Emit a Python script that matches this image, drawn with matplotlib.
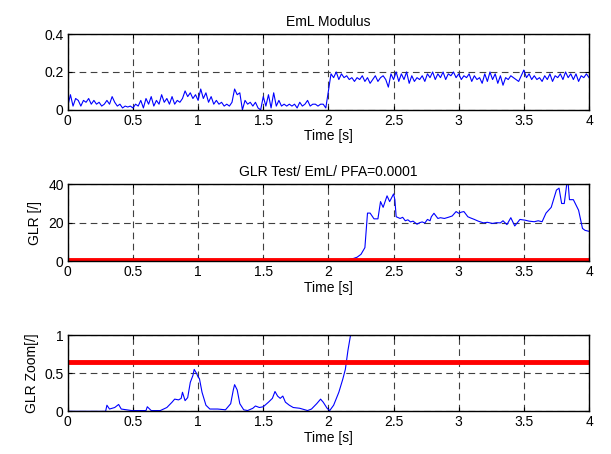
import numpy as np
import matplotlib
matplotlib.use('Agg')
import matplotlib.pyplot as plt

plt.rcParams['font.family'] = ['Liberation Sans', 'DejaVu Sans']
plt.rcParams['font.size'] = 10

# EmL modulus, sampled every 0.02 s from 0 to 4 s
eml_t = np.arange(201) * 0.02
eml = [
    0.02, 0.08, 0.02, 0.06, 0.05, 0.02, 0.05, 0.04, 0.06, 0.03,
    0.05, 0.03, 0.04, 0.02, 0.03, 0.05, 0.03, 0.07, 0.04, 0.02,
    0.03, 0.01, 0.02, 0.015, 0.02, 0.01, 0.03, 0.02, 0.05, 0.01,
    0.06, 0.03, 0.07, 0.02, 0.05, 0.03, 0.08, 0.04, 0.06, 0.03,
    0.07, 0.03, 0.05, 0.04, 0.06, 0.10, 0.07, 0.09, 0.06, 0.08,
    0.05, 0.11, 0.06, 0.09, 0.04, 0.07, 0.03, 0.05, 0.03, 0.04,
    0.02, 0.03, 0.02, 0.04, 0.11, 0.08, 0.09, 0.00, 0.05, 0.03,
    0.04, 0.02, 0.04, 0.01, 0.00, 0.07, 0.02, 0.08, 0.01, 0.09,
    0.02, 0.05, 0.02, 0.03, 0.02, 0.03, 0.02, 0.03, 0.01, 0.04,
    0.02, 0.03, 0.05, 0.02, 0.03, 0.03, 0.02, 0.03, 0.03, 0.01,
    0.10, 0.19, 0.17, 0.20, 0.16, 0.19, 0.17, 0.18, 0.16, 0.17,
    0.15, 0.17, 0.16, 0.18, 0.15, 0.17, 0.14, 0.16, 0.18, 0.15,
    0.17, 0.18, 0.16, 0.12, 0.19, 0.16, 0.20, 0.15, 0.19, 0.16,
    0.20, 0.14, 0.18, 0.15, 0.17, 0.16, 0.18, 0.15, 0.19, 0.17,
    0.20, 0.16, 0.19, 0.17, 0.20, 0.16, 0.19, 0.18, 0.20, 0.17,
    0.19, 0.16, 0.18, 0.17, 0.19, 0.15, 0.18, 0.16, 0.17, 0.14,
    0.19, 0.15, 0.20, 0.16, 0.19, 0.14, 0.18, 0.13, 0.17, 0.16,
    0.18, 0.17, 0.16, 0.15, 0.18, 0.21, 0.17, 0.19, 0.16, 0.18,
    0.16, 0.17, 0.15, 0.18, 0.16, 0.19, 0.15, 0.18, 0.17, 0.19,
    0.16, 0.20, 0.17, 0.19, 0.16, 0.19, 0.15, 0.18, 0.17, 0.19,
    0.17,
]

# GLR statistic (read at irregular times)
glr_t = [
    0.00, 0.29, 0.30, 0.32, 0.36, 0.39, 0.41, 0.45, 0.49, 0.53,
    0.60, 0.61, 0.64, 0.71, 0.76, 0.80, 0.82, 0.85, 0.87, 0.88,
    0.90, 0.92, 0.94, 0.96, 0.97, 0.99, 1.00, 1.01, 1.03, 1.06,
    1.09, 1.15, 1.21, 1.25, 1.27, 1.28, 1.30, 1.32, 1.35, 1.38,
    1.42, 1.44, 1.47, 1.50, 1.54, 1.57, 1.59, 1.61, 1.63, 1.65,
    1.67, 1.70, 1.73, 1.78, 1.84, 1.87, 1.91, 1.94, 1.96, 1.99,
    2.01, 2.04, 2.08, 2.11, 2.13, 2.15, 2.17, 2.19, 2.22, 2.25,
    2.28, 2.30, 2.32, 2.35, 2.38, 2.40, 2.42, 2.45, 2.47, 2.50,
    2.51, 2.52, 2.55, 2.57, 2.59, 2.61, 2.63, 2.65, 2.68, 2.70,
    2.72, 2.74, 2.76, 2.78, 2.79, 2.81, 2.84, 2.86, 2.89, 2.92,
    2.95, 2.98, 3.00, 3.02, 3.04, 3.07, 3.09, 3.12, 3.15, 3.19,
    3.22, 3.26, 3.29, 3.32, 3.34, 3.37, 3.40, 3.43, 3.47, 3.51,
    3.54, 3.58, 3.61, 3.64, 3.67, 3.71, 3.75, 3.77, 3.79, 3.81,
    3.83, 3.84, 3.85, 3.88, 3.92, 3.95, 3.97, 4.00,
]
glr = [
    0.00, 0.00, 0.08, 0.03, 0.05, 0.09, 0.03, 0.02, 0.01, 0.01,
    0.01, 0.06, 0.01, 0.01, 0.05, 0.12, 0.16, 0.15, 0.17, 0.25,
    0.14, 0.18, 0.38, 0.47, 0.55, 0.49, 0.45, 0.43, 0.25, 0.08,
    0.03, 0.03, 0.02, 0.10, 0.28, 0.35, 0.28, 0.10, 0.02, 0.01,
    0.04, 0.07, 0.05, 0.06, 0.12, 0.17, 0.26, 0.20, 0.17, 0.20,
    0.12, 0.08, 0.05, 0.04, 0.01, 0.03, 0.10, 0.16, 0.12, 0.04,
    0.01, 0.08, 0.25, 0.42, 0.55, 0.80, 1.00, 1.3, 2.0, 3.5,
    7.0, 25.0, 25.0, 22.0, 22.0, 31.0, 28.0, 34.0, 31.0, 35.0,
    32.0, 23.1, 22.2, 22.8, 21.0, 21.5, 20.4, 20.8, 19.2, 20.0,
    20.4, 19.8, 21.7, 21.0, 23.1, 24.9, 22.2, 22.6, 22.2, 22.8,
    23.5, 25.8, 24.9, 25.5, 25.8, 23.1, 22.5, 21.7, 20.8, 19.9,
    20.2, 19.6, 20.0, 19.9, 21.0, 19.0, 22.6, 18.3, 21.7, 21.3,
    20.8, 20.5, 21.0, 20.5, 25.0, 28.0, 37.0, 38.0, 30.0, 30.0,
    40.5, 40.5, 32.0, 32.0, 26.5, 17.0, 16.0, 15.5,
]

threshold = 0.65
xticks = [0, 0.5, 1, 1.5, 2, 2.5, 3, 3.5, 4]
xticklabels = ['0', '0.5', '1', '1.5', '2', '2.5', '3', '3.5', '4']


def style_axes(ax, yticks, yticklabels):
    ax.set_xlim(0, 4)
    ax.set_xticks(xticks)
    ax.set_xticklabels(xticklabels)
    ax.set_yticks(yticks)
    ax.set_yticklabels(yticklabels)
    ax.set_ylim(yticks[0], yticks[-1])
    ax.tick_params(direction='in', top=True, right=True, length=3, pad=3)
    ax.grid(True, color='#404040', linestyle=(0, (6, 4)), linewidth=0.8)
    ax.set_xlabel('Time [s]', labelpad=1)
    for s in ax.spines.values():
        s.set_linewidth(1.0)


def main():

    fig = plt.figure(figsize=(6.11, 4.54), dpi=100)

    ax1 = fig.add_axes([0.111, 0.758, 0.853, 0.167])
    ax1.plot(eml_t, eml, color='#0000ff', linewidth=0.8)
    style_axes(ax1, [0, 0.2, 0.4], ['0', '0.2', '0.4'])
    ax1.set_title('EmL Modulus', fontsize=10, pad=6)

    ax2 = fig.add_axes([0.111, 0.425, 0.853, 0.169])
    ax2.plot(glr_t, glr, color='#0000ff', linewidth=0.8)
    ax2.axhline(threshold, color='#ff0000', linewidth=3.5)
    style_axes(ax2, [0, 20, 40], ['0', '20', '40'])
    ax2.set_title('GLR Test/ EmL/ PFA=0.0001', fontsize=10, pad=6)
    ax2.set_ylabel('GLR [/]')

    ax3 = fig.add_axes([0.111, 0.094, 0.853, 0.168])
    ax3.plot(glr_t, glr, color='#0000ff', linewidth=0.8)
    ax3.axhline(threshold, color='#ff0000', linewidth=3.5)
    style_axes(ax3, [0, 0.5, 1], ['0', '0.5', '1'])
    ax3.set_ylabel('GLR Zoom[/]')

    fig.savefig('out.png', dpi=100)


if __name__ == '__main__':

    main()
